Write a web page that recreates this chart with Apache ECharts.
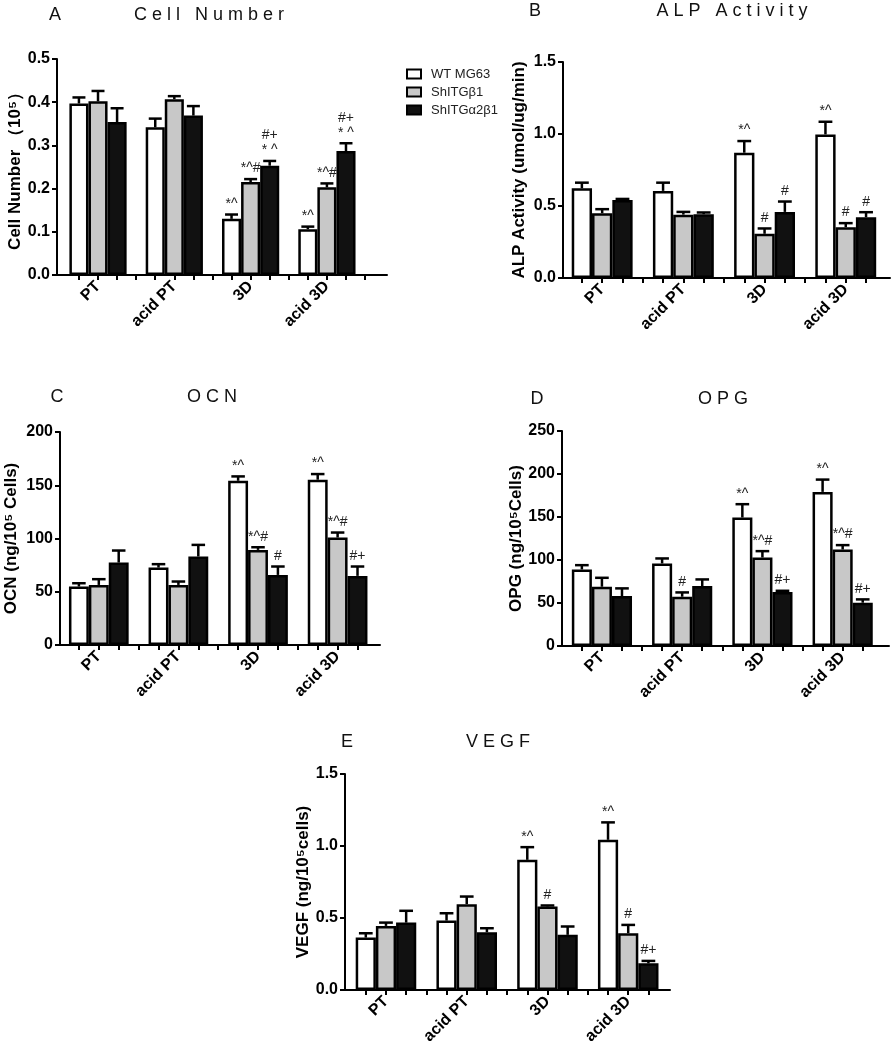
<!DOCTYPE html>
<html>
<head>
<meta charset="utf-8">
<script src="https://cdn.jsdelivr.net/npm/echarts@6/dist/echarts.min.js"></script>
<style>
  html, body { margin: 0; padding: 0; background: #fff; }
  #chart { width: 891px; height: 1050px; }
</style>
</head>
<body>
<div id="chart"></div>
<script>
const groups = ["PT", "acid PT", "3D", "acid 3D"];
const lines = ["WT MG63", "ShITGβ1", "ShITGα2β1"];

// rows: WT MG63, ShITGβ1, ShITGα2β1 ; columns follow groups
const cellMean = [[0.397, 0.342, 0.130, 0.106], [0.402, 0.407, 0.215, 0.203], [0.354, 0.369, 0.253, 0.287]];
const cellSem = [[0.014, 0.020, 0.010, 0.006], [0.024, 0.007, 0.007, 0.009], [0.032, 0.022, 0.011, 0.018]];
const cellMarks = [["", "", "*^", "*^"], ["", "", "*^#", "*^#"], ["", "", "#+\n* ^", "#+\n* ^"]];

const alpMean = [[0.623, 0.605, 0.870, 0.997], [0.450, 0.440, 0.307, 0.353], [0.542, 0.443, 0.459, 0.422]];
const alpSem = [[0.039, 0.057, 0.081, 0.088], [0.028, 0.019, 0.037, 0.028], [0.007, 0.012, 0.072, 0.035]];
const alpMarks = [["", "", "*^", "*^"], ["", "", "#", "#"], ["", "", "#", "#"]];

const ocnMean = [[54.9, 72.7, 154.2, 155.2], [56.4, 56.4, 89.3, 100.9], [77.4, 83.1, 65.8, 64.9]];
const ocnSem = [[3.1, 3.2, 4.1, 5.3], [5.4, 3.2, 2.5, 4.7], [11.3, 10.9, 7.9, 8.8]];
const ocnMarks = [["", "", "*^", "*^"], ["", "", "*^#", "*^#"], ["", "", "#", "#+"]];

const opgMean = [[89.0, 96.0, 149.4, 179.2], [68.9, 57.3, 102.9, 112.2], [58.0, 69.7, 62.7, 50.3]];
const opgSem = [[5.0, 5.8, 15.5, 14.3], [10.4, 5.0, 7.4, 5.1], [9.0, 7.7, 1.5, 3.9]];
const opgMarks = [["", "", "*^", "*^"], ["", "#", "*^#", "*^#"], ["", "", "#+", "#+"]];

const vegfMean = [[0.364, 0.482, 0.904, 1.043], [0.445, 0.596, 0.580, 0.394], [0.468, 0.401, 0.383, 0.185]];
const vegfSem = [[0.030, 0.051, 0.088, 0.121], [0.023, 0.053, 0.007, 0.058], [0.082, 0.028, 0.058, 0.017]];
const vegfMarks = [["", "", "*^", "*^"], ["", "", "#", "#"], ["", "", "", "#+"]];

const font = "'Liberation Sans', Arial, sans-serif";
const fills = ["#ffffff", "#c8c8c8", "#111111"];

// x is measured in bar slots: group k, line s sits at k * 4 + s
const panels = [
  { letter: "A", title: "C e l l   N u m b e r", yName: "Cell Number （10⁵）",
    mean: cellMean, sem: cellSem, marks: cellMarks, max: 0.5, step: 0.1, digits: 1,
    grid: { left: 57, top: 59, width: 330, height: 216 }, xMin: -1.15, xMax: 16.15, ticks: 16,
    nameGap: 32, letterAt: [55, 15], titleAt: [209, 15] },
  { letter: "B", title: "A L P   A c t i v i t y", yName: "ALP Activity (umol/ug/min)",
    mean: alpMean, sem: alpSem, marks: alpMarks, max: 1.5, step: 0.5, digits: 1,
    grid: { left: 563, top: 62, width: 327, height: 216 }, xMin: -0.93, xMax: 15.18, ticks: 15,
    nameGap: 35, letterAt: [535, 11], titleAt: [732, 11] },
  { letter: "C", title: "O C N", yName: "OCN (ng/10⁵ Cells)",
    mean: ocnMean, sem: ocnSem, marks: ocnMarks, max: 200, step: 50, digits: 0,
    grid: { left: 60, top: 432, width: 320, height: 213 }, xMin: -0.95, xMax: 15.13, ticks: 15,
    nameGap: 40, letterAt: [57, 397], titleAt: [212, 397] },
  { letter: "D", title: "O P G", yName: "OPG (ng/10⁵Cells)",
    mean: opgMean, sem: opgSem, marks: opgMarks, max: 250, step: 50, digits: 0,
    grid: { left: 562, top: 431, width: 327, height: 215 }, xMin: -0.99, xMax: 15.31, ticks: 15,
    nameGap: 35, letterAt: [537, 399], titleAt: [723, 399] },
  { letter: "E", title: "V E G F", yName: "VEGF (ng/10⁵cells)",
    mean: vegfMean, sem: vegfSem, marks: vegfMarks, max: 1.5, step: 0.5, digits: 1,
    grid: { left: 345, top: 774, width: 325, height: 216 }, xMin: -1.03, xMax: 15.07, ticks: 15,
    nameGap: 33, letterAt: [347, 742], titleAt: [498, 742] }
];

const slotPx = p => p.grid.width / (p.xMax - p.xMin);

const errorBar = marks => (params, api) => {
  const x = api.value(0);
  const v = api.value(1);
  const e = api.value(2);
  const base = api.coord([x, v]);
  const hi = api.coord([x, v + e]);
  const half = api.size([1, 0])[0] * 0.34;
  const stroke = { stroke: "#000", lineWidth: 2.5 };
  const children = [
    { type: "line", shape: { x1: base[0], y1: base[1], x2: hi[0], y2: hi[1] }, style: stroke },
    { type: "line", shape: { x1: hi[0] - half, y1: hi[1], x2: hi[0] + half, y2: hi[1] }, style: stroke }
  ];
  const mark = marks[params.dataIndex];
  if (mark) {
    children.push({
      type: "text", x: hi[0], y: hi[1] - 3,
      style: { text: mark, fill: "#222", font: "14px " + font, align: "center", verticalAlign: "bottom", lineHeight: 15 }
    });
  }
  return { type: "group", children };
};

const axisStroke = { color: "#000", width: 2 };
const tickFont = { fontSize: 16, fontWeight: "bold", color: "#000", fontFamily: font };

const series = [];
panels.forEach((p, i) => {
  lines.forEach((name, s) => {
    series.push({
      type: "bar",
      name,
      xAxisIndex: i,
      yAxisIndex: i,
      barWidth: slotPx(p),
      barGap: "-100%",
      data: groups.map((g, k) => [k * 4 + s, p.mean[s][k]]),
      itemStyle: { color: fills[s], borderColor: "#000", borderWidth: 2.5 },
      emphasis: { disabled: true }
    });
    series.push({
      type: "custom",
      xAxisIndex: i,
      yAxisIndex: i,
      silent: true,
      z: 3,
      data: groups.map((g, k) => [k * 4 + s, p.mean[s][k], p.sem[s][k]]),
      renderItem: errorBar(p.marks[s])
    });
  });
});

const graphic = [];
panels.forEach(p => {
  graphic.push({
    type: "text", x: p.letterAt[0], y: p.letterAt[1],
    style: { text: p.letter, font: "18px " + font, fill: "#111", align: "center", verticalAlign: "middle" }
  });
  graphic.push({
    type: "text", x: p.titleAt[0], y: p.titleAt[1],
    style: { text: p.title, font: "18px " + font, fill: "#111", align: "center", verticalAlign: "middle" }
  });
});

const option = {
  animation: false,
  backgroundColor: "#fff",
  grid: panels.map(p => p.grid),
  xAxis: panels.map((p, i) => ({
    type: "value",
    gridIndex: i,
    min: p.xMin,
    max: p.xMax,
    axisLine: { show: true, onZero: false, lineStyle: axisStroke },
    axisTick: { show: true, length: 5, lineStyle: axisStroke, customValues: [...Array(p.ticks).keys()] },
    axisLabel: {
      ...tickFont,
      rotate: 45,
      margin: 9,
      customValues: [1, 5, 9, 13],
      formatter: v => groups[Math.round((v - 1) / 4)]
    },
    splitLine: { show: false }
  })),
  yAxis: panels.map((p, i) => ({
    type: "value",
    gridIndex: i,
    min: 0,
    max: p.max,
    interval: p.step,
    name: p.yName,
    nameLocation: "middle",
    nameGap: p.nameGap,
    nameRotate: 90,
    nameTextStyle: { fontSize: 17, fontWeight: "bold", color: "#000", fontFamily: font },
    axisLine: { show: true, onZero: false, lineStyle: axisStroke },
    axisTick: { show: true, length: 5, lineStyle: axisStroke },
    axisLabel: { ...tickFont, margin: 7, formatter: v => v.toFixed(p.digits) },
    splitLine: { show: false }
  })),
  legend: {
    orient: "vertical",
    left: 401,
    top: 62,
    icon: "rect",
    itemWidth: 14,
    itemHeight: 9,
    itemGap: 4,
    selectedMode: false,
    data: lines,
    itemStyle: { borderColor: "#000", borderWidth: 2 },
    textStyle: { fontSize: 13, color: "#222", fontFamily: font, lineHeight: 14, padding: [0, 0, 0, 5] }
  },
  graphic,
  series
};

const chart = echarts.init(document.getElementById("chart"));
chart.setOption(option);
window.addEventListener("resize", () => chart.resize());
</script>
</body>
</html>
